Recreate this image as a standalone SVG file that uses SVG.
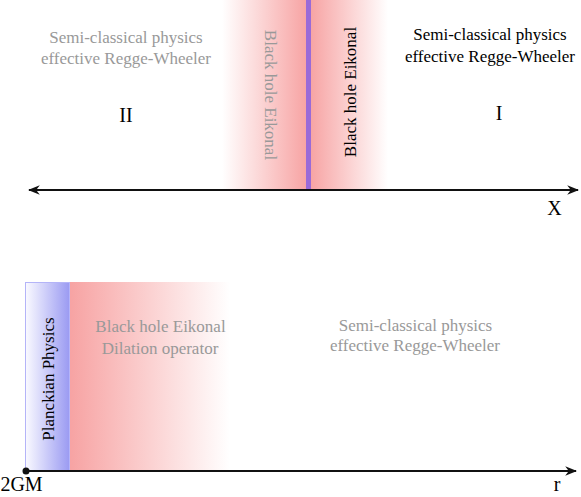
<svg xmlns="http://www.w3.org/2000/svg" width="581" height="497" viewBox="0 0 581 497">
<style>
text{font-family:'Liberation Serif','DejaVu Serif',serif;font-size:17px;text-anchor:middle}
.g{fill:#999}
.k{fill:#000}
.lb{font-size:20px}
.ax{stroke:#111;stroke-width:2;fill:none}
</style>
<defs>
<linearGradient id="pl" x1="0" x2="1" y1="0" y2="0"><stop offset="0" stop-color="#fff"/><stop offset="1" stop-color="#f7a3a3"/></linearGradient>
<linearGradient id="pr" x1="0" x2="1" y1="0" y2="0"><stop offset="0" stop-color="#f7a3a3"/><stop offset="1" stop-color="#fff"/></linearGradient>
<linearGradient id="bl" x1="0" x2="1" y1="0" y2="0"><stop offset="0" stop-color="#fafaff"/><stop offset="1" stop-color="#9a9af2"/></linearGradient>
<marker id="ah" viewBox="0 0 10 10" refX="9" refY="5" markerWidth="6" markerHeight="6" orient="auto-start-reverse"><path d="M0,1 L10,5 L0,9 L3,5 Z" fill="#111"/></marker>
</defs>
<g id="top-band">
<rect x="222" y="0" width="85" height="190" fill="url(#pl)"/>
<rect x="310" y="0" width="78" height="190" fill="url(#pr)"/>
<rect x="306" y="0" width="5" height="190" fill="#9a6ad8"/>
</g>
<g id="region-II">
<text class="g" x="126" y="43">Semi-classical physics</text>
<text class="g" x="126" y="64">effective Regge-Wheeler</text>
<text class="k lb" x="126" y="122">II</text>
</g>
<g id="region-I">
<text class="k" x="490" y="40">Semi-classical physics</text>
<text class="k" x="490" y="62">effective Regge-Wheeler</text>
<text class="k lb" x="499" y="120">I</text>
</g>
<g id="eikonal-left"><text class="g" transform="translate(265,95) rotate(90)">Black hole Eikonal</text></g>
<g id="eikonal-right"><text class="k" transform="translate(356,92) rotate(-90)">Black hole Eikonal</text></g>
<g id="bottom-bands">
<rect x="70" y="282" width="160" height="189" fill="url(#pr)"/>
<rect x="25.5" y="282.5" width="44" height="188" fill="url(#bl)" stroke="#b4b4f8" stroke-width="1"/>
</g>
<g id="planckian"><text class="k" transform="translate(54,379) rotate(-90)">Planckian Physics</text></g>
<g id="eikonal-bottom">
<text class="g" x="160.5" y="332">Black hole Eikonal</text>
<text class="g" x="160" y="354">Dilation operator</text>
</g>
<g id="semi-bottom">
<text class="g" x="415.5" y="331">Semi-classical physics</text>
<text class="g" x="415" y="351">effective Regge-Wheeler</text>
</g>
<g id="connectors">
<line class="ax" x1="29" y1="190" x2="578" y2="190" marker-start="url(#ah)" marker-end="url(#ah)"/>
<line class="ax" x1="26" y1="471" x2="576" y2="471" marker-end="url(#ah)"/>
<circle cx="26" cy="471" r="3.5" fill="#111"/>
</g>
<g id="labels">
<text class="k lb" x="554.5" y="215">X</text>
<text class="k lb" x="557" y="491">r</text>
<text class="k lb" x="21.5" y="491">2GM</text>
</g>
</svg>
